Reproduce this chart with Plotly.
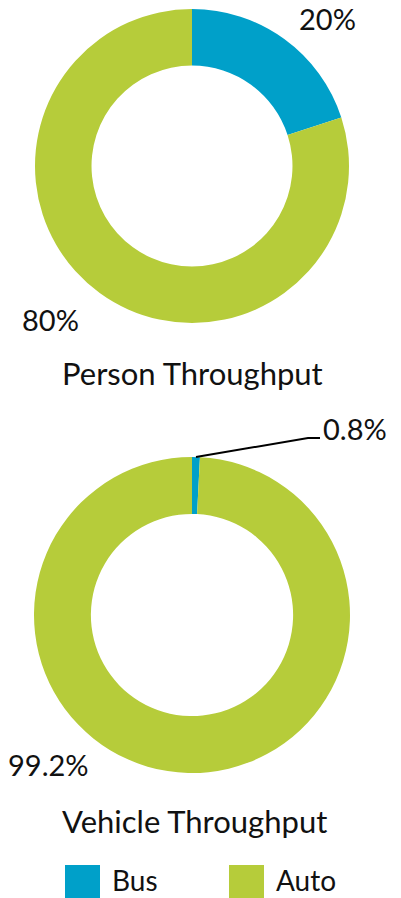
import plotly.graph_objects as go

W, H = 401, 898
categories = ["Bus", "Auto"]
colors = ["#00A0C9", "#B6CC3A"]
person_values = [20, 80]
vehicle_values = [0.8, 99.2]
titles = ["Person Throughput", "Vehicle Throughput"]
FONT = "Lato"
FS = 31

def px(x):
    return x / W

def py(y):
    return 1 - y / H

fig = go.Figure()
fig.add_trace(go.Pie(
    labels=categories, values=person_values, hole=0.64, sort=False,
    direction="clockwise", rotation=0, textinfo="none", showlegend=False,
    marker=dict(colors=colors, line=dict(width=0)),
    domain=dict(x=[px(35), px(349)], y=[py(323), py(9)]),
))
fig.add_trace(go.Pie(
    labels=categories, values=vehicle_values, hole=0.64, sort=False,
    direction="clockwise", rotation=0, textinfo="none", showlegend=False,
    marker=dict(colors=colors, line=dict(width=0)),
    domain=dict(x=[px(34), px(350)], y=[py(773), py(457)]),
))

ann = []
def txt(x, y, s, xanchor="center", size=FS, yanchor="middle"):
    ann.append(dict(x=px(x), y=py(y), xref="paper", yref="paper", text=s,
                    showarrow=False, xanchor=xanchor, yanchor=yanchor,
                    borderpad=0, font=dict(family=FONT, size=size, color="#111")))

def pct(v):
    return f"{v:g}%"

txt(327, 19, pct(person_values[0]), size=29)
txt(50, 319, pct(person_values[1]), size=29)
txt(322, 429, pct(vehicle_values[0]), xanchor="left", size=29)
txt(48, 764, pct(vehicle_values[1]), size=29)
txt(192, 373, titles[0])
txt(194, 821, titles[1])

# legend
leg_x = [65, 229]
for i, cat in enumerate(categories):
    fig.add_shape(type="rect", xref="paper", yref="paper",
                  x0=px(leg_x[i]), x1=px(leg_x[i] + 35), y0=py(900), y1=py(865),
                  fillcolor=colors[i], line=dict(width=0))
    txt(leg_x[i] + 46, 880, cat, xanchor="left", size=28)

# leader line for small slice
fig.add_shape(type="path", xref="paper", yref="paper",
              path=f"M {px(196)} {py(457)} L {px(308)} {py(438)} L {px(320)} {py(438)}",
              line=dict(color="#000", width=2))

fig.update_layout(width=W, height=H, margin=dict(l=0, r=0, t=0, b=0),
                  paper_bgcolor="white", plot_bgcolor="white",
                  annotations=ann, font=dict(family=FONT))
fig.write_html("out.html", config={"displayModeBar": False},
               post_script="document.body.style.margin='0';document.body.style.overflow='hidden';")
